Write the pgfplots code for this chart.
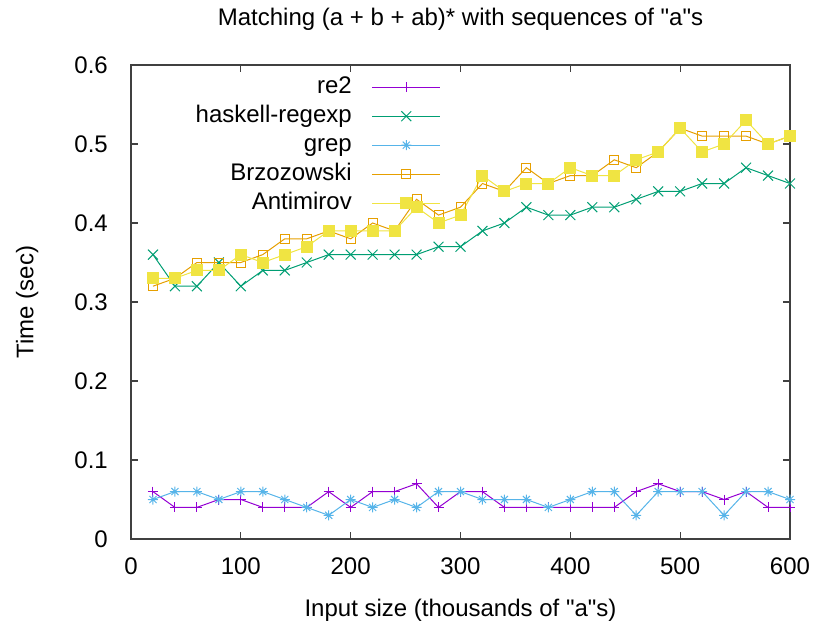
\documentclass[border=0pt]{standalone}
\usepackage{fontspec}
\setmainfont{Liberation Sans}[Ligatures=TeXOff]
\usepackage{pgfplots}
\usepackage{pgfplotstable}
\pgfplotsset{compat=1.18}
\definecolor{cre}{HTML}{9400D3}
\definecolor{chask}{HTML}{009E73}
\definecolor{cgrep}{HTML}{56B4E9}
\definecolor{cbrz}{HTML}{E69F00}
\definecolor{cant}{HTML}{F0E442}
\pgfdeclareplotmark{gpstar}{%
  \pgfpathmoveto{\pgfqpoint{-\pgfplotmarksize}{0pt}}\pgfpathlineto{\pgfqpoint{\pgfplotmarksize}{0pt}}%
  \pgfpathmoveto{\pgfqpoint{0pt}{-\pgfplotmarksize}}\pgfpathlineto{\pgfqpoint{0pt}{\pgfplotmarksize}}%
  \pgfpathmoveto{\pgfqpoint{-.707\pgfplotmarksize}{-.707\pgfplotmarksize}}\pgfpathlineto{\pgfqpoint{.707\pgfplotmarksize}{.707\pgfplotmarksize}}%
  \pgfpathmoveto{\pgfqpoint{-.707\pgfplotmarksize}{.707\pgfplotmarksize}}\pgfpathlineto{\pgfqpoint{.707\pgfplotmarksize}{-.707\pgfplotmarksize}}%
  \pgfusepathqstroke}
\pgfplotstableread{
x re2 hask grep brz ant
20 0.06 0.36 0.05 0.32 0.33
40 0.04 0.32 0.06 0.33 0.33
60 0.04 0.32 0.06 0.35 0.34
80 0.05 0.35 0.05 0.35 0.34
100 0.05 0.32 0.06 0.35 0.36
120 0.04 0.34 0.06 0.36 0.35
140 0.04 0.34 0.05 0.38 0.36
160 0.04 0.35 0.04 0.38 0.37
180 0.06 0.36 0.03 0.39 0.39
200 0.04 0.36 0.05 0.38 0.39
220 0.06 0.36 0.04 0.40 0.39
240 0.06 0.36 0.05 0.39 0.39
260 0.07 0.36 0.04 0.43 0.42
280 0.04 0.37 0.06 0.41 0.40
300 0.06 0.37 0.06 0.42 0.41
320 0.06 0.39 0.05 0.45 0.46
340 0.04 0.40 0.05 0.44 0.44
360 0.04 0.42 0.05 0.47 0.45
380 0.04 0.41 0.04 0.45 0.45
400 0.04 0.41 0.05 0.46 0.47
420 0.04 0.42 0.06 0.46 0.46
440 0.04 0.42 0.06 0.48 0.46
460 0.06 0.43 0.03 0.47 0.48
480 0.07 0.44 0.06 0.49 0.49
500 0.06 0.44 0.06 0.52 0.52
520 0.06 0.45 0.06 0.51 0.49
540 0.05 0.45 0.03 0.51 0.50
560 0.06 0.47 0.06 0.51 0.53
580 0.04 0.46 0.06 0.50 0.50
600 0.04 0.45 0.05 0.51 0.51
}\data
\begin{document}
\begin{tikzpicture}[font=\fontsize{24}{29}\selectfont]
\path[use as bounding box] (-131pt,-83pt) rectangle (682pt,539pt);
\begin{axis}[
  at={(0,0)}, anchor=south west,
  scale only axis, width=659pt, height=474pt,
  xmin=0, xmax=600, ymin=0, ymax=0.6,
  xtick={0,100,200,300,400,500,600},
  ytick={0,0.1,0.2,0.3,0.4,0.5,0.6},
  /pgf/number format/assume math mode=true,
  /pgf/number format/fixed,
  /pgf/number format/precision=1,
  scaled y ticks=false,
  axis line style={draw=black!75, line width=1.3pt},
  major tick style={draw=black!75, line width=1.1pt},
  major tick length=7pt,
  tick align=inside,
  xticklabel style={anchor=north, inner sep=0pt, yshift=-19pt},
  yticklabel style={anchor=east, inner sep=0pt, xshift=-23pt},
  title={Matching (a + b + ab)* with sequences of "a"s},
  title style={at={(0.5,1.0717)}, anchor=base, inner sep=0pt},
  xlabel={Input size (thousands of "a"s)},
  xlabel style={at={(0.5,-0.1635)}, anchor=base, inner sep=0pt},
  ylabel={Time (sec)},
  ylabel style={at={(-0.1480,0.5)}, anchor=base, inner sep=0pt},
  legend plot pos=right,
  legend cell align=right,
  legend image code/.code={\draw[mark repeat=2,mark phase=2,#1] plot coordinates {(0pt,0pt) (34pt,0pt) (68pt,0pt)};},
  legend style={at={(0.4704,0.9768)}, anchor=north east, draw=none, fill=none, inner sep=0pt,
    row sep=7pt, column sep=20pt,
    nodes={inner sep=0pt, text height=17pt, text depth=5pt}},
  every axis plot/.append style={line width=1pt},
]
\addplot[color=cre, mark=+, mark size=5pt] table[x=x, y=re2] {\data};
\addlegendentry{re2}
\addplot[color=chask, mark=x, mark size=7pt] table[x=x, y=hask] {\data};
\addlegendentry{haskell-regexp}
\addplot[color=cgrep, mark=gpstar, mark size=5pt] table[x=x, y=grep] {\data};
\addlegendentry{grep}
\addplot[color=cbrz, mark=square, mark size=4.5pt] table[x=x, y=brz] {\data};
\addlegendentry{Brzozowski}
\addplot[color=cant, mark=square*, mark size=5.5pt, mark options={fill=cant, draw=cant}] table[x=x, y=ant] {\data};
\addlegendentry{Antimirov}
\end{axis}
\end{tikzpicture}
\end{document}
